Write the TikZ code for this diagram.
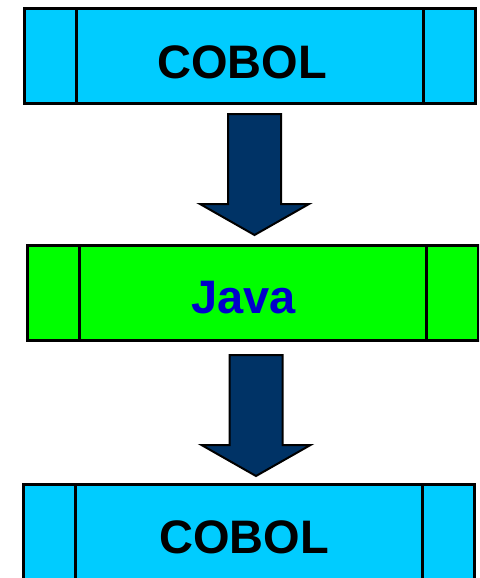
\documentclass[tikz,border=0pt]{standalone}
\usepackage{fontspec}
\setmainfont{Liberation Sans}
\usepackage{tikz}
\usetikzlibrary{calc}
\definecolor{cobolcyan}{RGB}{0,204,255}
\definecolor{javagreen}{RGB}{0,255,0}
\definecolor{javablue}{RGB}{0,0,204}
\definecolor{arrownavy}{RGB}{0,51,102}

\begin{document}
\begin{tikzpicture}[x=1pt, y=-1pt,
	box/.style={draw, line width=3pt, minimum width=451pt, minimum height=95pt, inner sep=0pt,
		path picture={
			\draw[line width=3pt] ([xshift=52pt]path picture bounding box.north west) -- ([xshift=52pt]path picture bounding box.south west);
			\draw[line width=3pt] ([xshift=-52pt]path picture bounding box.north east) -- ([xshift=-52pt]path picture bounding box.south east);
		}},
	lang/.style={font=\fontsize{47}{47}\selectfont\bfseries, inner sep=0pt},
	blockarrow/.style={draw, line width=2pt, fill=arrownavy, line join=miter}]
	\useasboundingbox (0,0) rectangle (479,578);
	\clip (0,0) rectangle (479,578);
	% Boxes
	\node[box, fill=cobolcyan] (cobolA) at (250,56) {};
	\node[box, fill=javagreen] (java) at (252.5,293) {};
	\node[box, fill=cobolcyan] (cobolB) at (249,532) {};
	% Labels
	\node[lang] (cobolAtext) at (242,62) {COBOL};
	\node[lang, text=javablue] (javatext) at (243.5,298) {Java};
	\node[lang] (cobolBtext) at (244,537.5) {COBOL};
	% Arrows (shaft half width 26.5, head half width 54.5, head length 31)
	\coordinate (arrA) at ($(cobolA.south)+(4.5,9)$);
	\coordinate (arrAtip) at ($(java.north)+(2,-9)$);
	\coordinate (arrB) at ($(java.south)+(3.5,13)$);
	\coordinate (arrBtip) at ($(cobolB.north)+(7,-7)$);
	\foreach \s/\t in {arrA/arrAtip, arrB/arrBtip} {
		\draw[blockarrow] ($(\s)+(-26.5,0)$) -- ($(\s)+(26.5,0)$) -- ($(\t)+(26.5,-31)$)
			-- ($(\t)+(54.5,-31)$) -- (\t) -- ($(\t)+(-54.5,-31)$) -- ($(\t)+(-26.5,-31)$) -- cycle;
	}
\end{tikzpicture}
\end{document}
